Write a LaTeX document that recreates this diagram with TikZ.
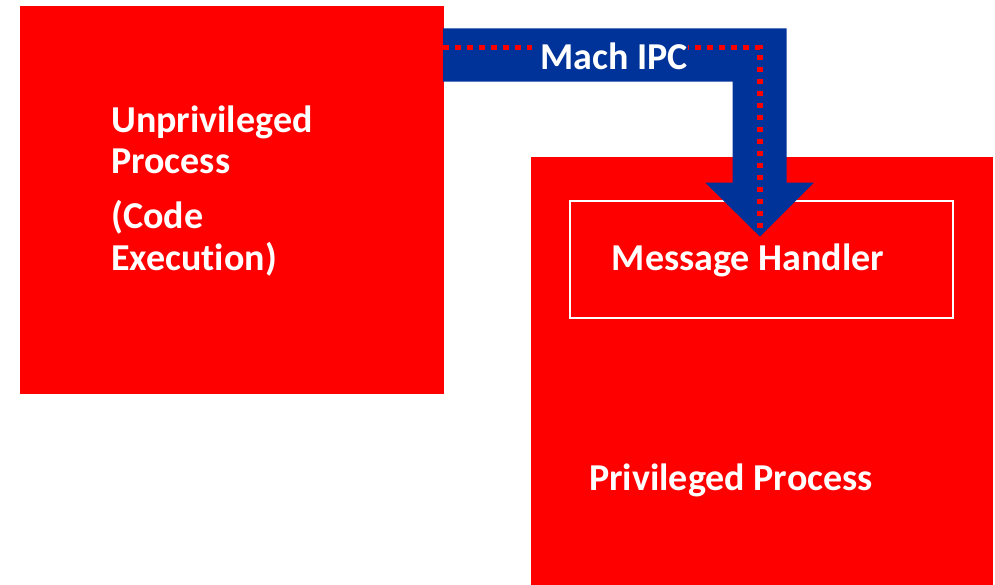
\documentclass[tikz,border=0pt]{standalone}
\usepackage{fontspec}
\setmainfont[Ligatures=NoCommon]{Carlito}
\definecolor{procred}{HTML}{FF0000}
\definecolor{ipcblue}{HTML}{003399}
\tikzset{
  procbox/.style={fill=procred, draw=none, inner sep=0pt, anchor=north west},
  lbl/.style={text=white, font=\fontsize{38}{40}\selectfont\bfseries, inner sep=0pt, anchor=base west},
  handlerbox/.style={draw=white, line width=2pt, inner sep=0pt, anchor=north west,
    minimum width=383pt, minimum height=117pt},
  ipcpath/.style={draw=procred, line width=5.5pt, dash pattern=on 5.5pt off 6.5pt},
}
\begin{document}
\begin{tikzpicture}[x=1pt, y=-1pt]
  \useasboundingbox (0,0) rectangle (995,585);

  % the two processes
  \node[procbox, minimum width=424pt, minimum height=388pt] (unpriv) at (20,6) {};
  \node[procbox, minimum width=462pt, minimum height=428pt] (priv) at (531,157) {};
  \node[handlerbox] (handler) at (568.7,200) {};

  \node[lbl] (unprivA) at (111,133) {Unprivileged};
  \node[lbl] (unprivB) at (111,174) {Process};
  \node[lbl] (unprivC) at (111,229) {(Code};
  \node[lbl] (unprivD) at (111,270) {Execution)};
  \node[lbl] (handlertxt) at (611.7,270.7) {Message Handler};
  \node[lbl] (privtxt) at (589,490) {Privileged Process};

  % bent IPC arrow
  \fill[ipcblue] (443,28.3) -- (786.7,28.3) -- (786.7,182.7) -- (814,182.7)
    -- (760,236.7) -- (705.3,182.7) -- (732.7,182.7) -- (732.7,81.7)
    -- (443,81.7) -- cycle;
  \coordinate (ipcstart) at (443,47.7);
  \coordinate (ipcbend) at (760,47.7);
  \coordinate (ipcend) at (760,234);
  \draw[ipcpath] (ipcstart) -- (ipcbend) -- (ipcend);
  \node[lbl, fill=ipcblue, text depth=0pt] (mach) at (532,70) {\hspace*{8pt}Mach IPC};
\end{tikzpicture}
\end{document}
